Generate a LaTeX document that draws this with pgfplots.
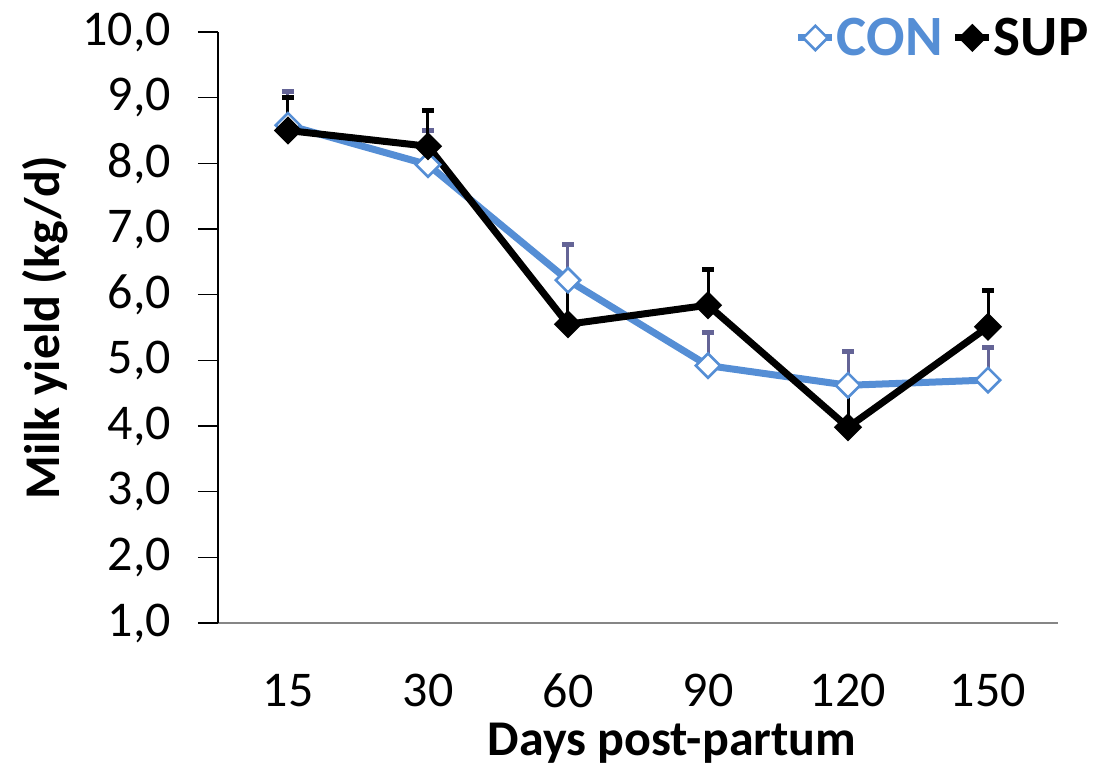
\documentclass[border=0pt]{standalone}
\usepackage{fontspec}
\setmainfont{Carlito}
\usepackage{pgfplots}
\pgfplotsset{compat=1.18}
\definecolor{conblue}{RGB}{85,142,213}
\definecolor{conerr}{RGB}{100,100,150}
\definecolor{axgray}{RGB}{134,134,134}
\begin{document}
\begin{tikzpicture}
\begin{axis}[
  name=ax,
  scale only axis,
  width=420pt, height=295.5pt,
  xmin=-0.5, xmax=5.5,
  ymin=1, ymax=10,
  axis x line=bottom, axis y line=left,
  axis line style={-},
  x axis line style={axgray, line width=1pt},
  y axis line style={black, line width=1pt},
  xtick={0,1,2,3,4,5},
  xticklabels={15,30,60,90,120,150},
  extra x ticks={-0.5,0.5,1.5,2.5,3.5,4.5,5.5},
  extra x tick labels={},
  extra x tick style={major tick length=8.5pt, tick style={axgray, line width=0.8pt}},
  x tick style={draw=none},
  ytick={1,2,3,4,5,6,7,8,9,10},
  y tick style={black, line width=0.8pt},
  tick align=outside,
  major tick length=10pt,
  /pgf/number format/assume math mode=true,
  yticklabel={\pgfmathprintnumber[fixed,fixed zerofill,precision=1,use comma]{\tick}},
  ticklabel style={font=\fontsize{25}{30}\selectfont},
  yticklabel style={xshift=-10pt},
  xticklabel style={yshift=-12pt},
  xlabel={\textbf{Days post-partum}},
  ylabel={\textbf{Milk yield (kg/d)}},
  label style={font=\fontsize{25}{30}\selectfont},
  xlabel style={at={(axis description cs:0.5,0)}, anchor=center, yshift=-60pt, xshift=17pt},
  ylabel style={at={(axis description cs:0,0.5)}, anchor=center, rotate=0, yshift=86.5pt},
  legend columns=2,
  legend style={draw=none, fill=none, at={(1.045,0.99)}, anchor=east,
    font=\fontsize{28.5}{33}\selectfont\bfseries, column sep=0pt,
    nodes={inner xsep=0.5pt},
    /tikz/every even column/.append style={column sep=4pt}},
  legend cell align=left,
  legend image code/.code={
    \draw[#1, line width=3.5pt] (0cm,0cm) -- (0.6cm,0cm);
    \draw[#1, mark repeat=1, mark phase=1] plot coordinates {(0.3cm,0cm)};
  },
  clip=false,
]
\addplot[conblue, line width=3.5pt,
  mark=square*, mark size=4.3pt,
  mark options={rotate=45, fill=white, draw=conblue, line width=1.3pt, solid},
  error bars/.cd, y dir=plus, y explicit,
  error bar style={conerr, line width=1.5pt},
  error mark options={rotate=90, mark size=3pt, conerr, line width=2.5pt}]
  coordinates {
  (0,8.58) +- (0,0.52)
  (1,7.98) +- (0,0.52)
  (2,6.22) +- (0,0.54)
  (3,4.92) +- (0,0.50)
  (4,4.62) +- (0,0.51)
  (5,4.70) +- (0,0.50)
};
\addlegendentry{\textcolor{conblue}{CON}}
\addplot[black, line width=3.5pt,
  mark=square*, mark size=4.5pt,
  mark options={rotate=45, fill=black, draw=black, line width=1pt, solid},
  error bars/.cd, y dir=plus, y explicit,
  error bar style={black, line width=1.5pt},
  error mark options={rotate=90, mark size=3pt, black, line width=2.5pt}]
  coordinates {
  (0,8.50) +- (0,0.50)
  (1,8.26) +- (0,0.55)
  (2,5.55) +- (0,0.60)
  (3,5.84) +- (0,0.54)
  (4,3.98) +- (0,0.60)
  (5,5.51) +- (0,0.55)
};
\addlegendentry{SUP}
\end{axis}
\pgfresetboundingbox
\path (ax.south west) ++(-109pt,-73.5pt) rectangle ++(546.5pt,385pt);
\end{tikzpicture}
\end{document}
